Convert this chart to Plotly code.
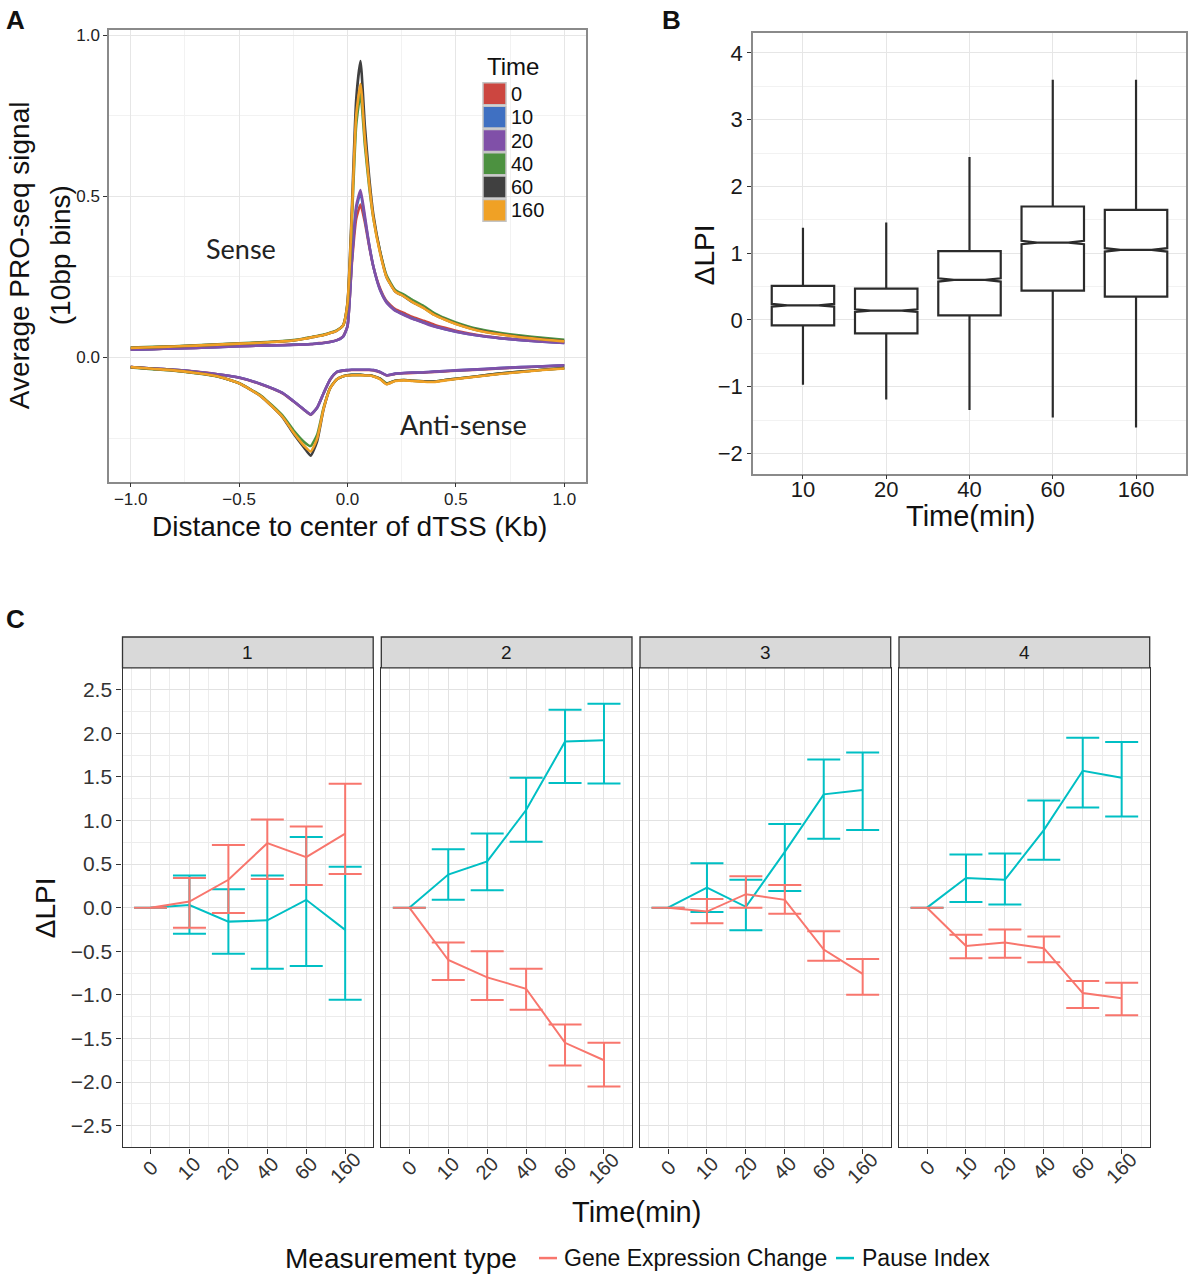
import plotly.graph_objects as go

W, H = 1194, 1280
FONT = "Liberation Sans, Arial, Helvetica, sans-serif"

# ---------------- Panel A data (average PRO-seq signal) ----------------
A_X = [-1.0, -0.9, -0.8, -0.7, -0.6, -0.5, -0.4, -0.3, -0.25, -0.2, -0.17, -0.14, -0.11, -0.08, -0.05, -0.02,
       0.0, 0.02, 0.04, 0.06, 0.08, 0.1, 0.12, 0.15, 0.18, 0.22, 0.26, 0.3, 0.35, 0.4, 0.45, 0.5,
       0.6, 0.7, 0.8, 0.9, 1.0]
A_TIMES = ["0", "10", "20", "40", "60", "160"]
A_COLORS = ["#CC4640", "#3F70C2", "#8050A8", "#4C9140", "#404040", "#F0A125"]

SENSE_0 = [0.024, 0.026, 0.028, 0.030, 0.033, 0.035, 0.037, 0.039, 0.040, 0.041, 0.042, 0.044, 0.046, 0.049, 0.054, 0.066,
           0.098, 0.29, 0.43, 0.475, 0.42, 0.345, 0.28, 0.215, 0.175, 0.15, 0.138, 0.126, 0.114, 0.102, 0.092, 0.083,
           0.070, 0.061, 0.055, 0.050, 0.046]
SENSE_10 = [0.024, 0.026, 0.028, 0.030, 0.032, 0.035, 0.037, 0.038, 0.040, 0.040, 0.042, 0.043, 0.045, 0.048, 0.053, 0.065,
            0.097, 0.30, 0.46, 0.51, 0.43, 0.35, 0.28, 0.21, 0.172, 0.146, 0.133, 0.121, 0.109, 0.097, 0.088, 0.080,
            0.068, 0.060, 0.054, 0.049, 0.045]
SENSE_20 = [0.024, 0.026, 0.028, 0.030, 0.032, 0.035, 0.037, 0.038, 0.039, 0.040, 0.041, 0.043, 0.045, 0.048, 0.053, 0.065,
            0.097, 0.30, 0.47, 0.52, 0.44, 0.35, 0.28, 0.21, 0.17, 0.145, 0.132, 0.120, 0.108, 0.096, 0.088, 0.080,
            0.068, 0.060, 0.054, 0.049, 0.045]
SENSE_40 = [0.031, 0.033, 0.035, 0.038, 0.041, 0.044, 0.047, 0.051, 0.054, 0.059, 0.063, 0.067, 0.071, 0.077, 0.084, 0.100,
            0.165, 0.42, 0.72, 0.82, 0.66, 0.53, 0.43, 0.33, 0.255, 0.21, 0.195, 0.178, 0.16, 0.138, 0.122, 0.109,
            0.089, 0.077, 0.068, 0.061, 0.055]
SENSE_60 = [0.030, 0.032, 0.034, 0.037, 0.040, 0.043, 0.046, 0.050, 0.053, 0.058, 0.062, 0.066, 0.070, 0.076, 0.083, 0.100,
            0.170, 0.46, 0.80, 0.92, 0.72, 0.56, 0.44, 0.33, 0.25, 0.205, 0.19, 0.172, 0.155, 0.133, 0.118, 0.105,
            0.085, 0.073, 0.064, 0.057, 0.051]
SENSE_160 = [0.030, 0.032, 0.034, 0.037, 0.040, 0.043, 0.046, 0.050, 0.053, 0.058, 0.062, 0.066, 0.070, 0.076, 0.083, 0.100,
             0.168, 0.44, 0.75, 0.85, 0.68, 0.54, 0.43, 0.325, 0.25, 0.205, 0.19, 0.172, 0.154, 0.132, 0.117, 0.104,
             0.084, 0.072, 0.063, 0.056, 0.050]

ANTI_0 = [-0.030, -0.034, -0.038, -0.044, -0.052, -0.063, -0.083, -0.111, -0.136, -0.163, -0.178, -0.156, -0.111, -0.069, -0.046, -0.041,
          -0.040, -0.039, -0.039, -0.039, -0.039, -0.039, -0.040, -0.046, -0.056, -0.051, -0.049, -0.048, -0.047, -0.045, -0.043, -0.041,
          -0.038, -0.034, -0.031, -0.028, -0.025]
ANTI_10 = [-0.030, -0.034, -0.038, -0.044, -0.052, -0.062, -0.082, -0.110, -0.135, -0.162, -0.177, -0.156, -0.110, -0.068, -0.045, -0.040,
           -0.039, -0.038, -0.038, -0.038, -0.038, -0.038, -0.039, -0.045, -0.055, -0.050, -0.048, -0.047, -0.046, -0.044, -0.042, -0.040,
           -0.037, -0.033, -0.030, -0.027, -0.024]
ANTI_20 = [-0.030, -0.034, -0.038, -0.044, -0.052, -0.062, -0.082, -0.110, -0.135, -0.162, -0.176, -0.155, -0.110, -0.068, -0.045, -0.040,
           -0.039, -0.038, -0.038, -0.038, -0.038, -0.038, -0.039, -0.045, -0.055, -0.050, -0.048, -0.047, -0.046, -0.044, -0.042, -0.040,
           -0.037, -0.033, -0.030, -0.027, -0.024]
ANTI_40 = [-0.031, -0.036, -0.041, -0.049, -0.059, -0.080, -0.118, -0.180, -0.225, -0.262, -0.275, -0.240, -0.155, -0.094, -0.068, -0.058,
           -0.055, -0.054, -0.054, -0.054, -0.055, -0.055, -0.058, -0.066, -0.080, -0.072, -0.070, -0.072, -0.074, -0.075, -0.070, -0.066,
           -0.058, -0.050, -0.044, -0.038, -0.033]
ANTI_60 = [-0.030, -0.035, -0.040, -0.048, -0.058, -0.080, -0.120, -0.185, -0.235, -0.280, -0.305, -0.260, -0.160, -0.095, -0.068, -0.058,
           -0.055, -0.054, -0.054, -0.054, -0.055, -0.055, -0.058, -0.066, -0.082, -0.072, -0.070, -0.072, -0.074, -0.075, -0.070, -0.066,
           -0.058, -0.050, -0.044, -0.038, -0.033]
ANTI_160 = [-0.030, -0.035, -0.040, -0.048, -0.058, -0.080, -0.120, -0.184, -0.232, -0.274, -0.292, -0.252, -0.158, -0.095, -0.068, -0.058,
            -0.056, -0.055, -0.055, -0.055, -0.056, -0.056, -0.059, -0.067, -0.083, -0.073, -0.071, -0.073, -0.075, -0.076, -0.071, -0.067,
            -0.059, -0.051, -0.045, -0.039, -0.034]

SENSE = [SENSE_0, SENSE_10, SENSE_20, SENSE_40, SENSE_60, SENSE_160]
ANTI = [ANTI_0, ANTI_10, ANTI_20, ANTI_40, ANTI_60, ANTI_160]

# ---------------- Panel B data (boxplot of delta LPI) ----------------
B_TIMES = ["10", "20", "40", "60", "160"]
B_POS = [1, 2, 3, 4, 5]
B_LOW = [-0.97, -1.19, -1.35, -1.46, -1.61]
B_Q1 = [-0.08, -0.20, 0.07, 0.44, 0.35]
B_MED = [0.22, 0.14, 0.60, 1.16, 1.05]
B_Q3 = [0.51, 0.47, 1.03, 1.70, 1.65]
B_HIGH = [1.38, 1.46, 2.44, 3.60, 3.60]
B_NOTCH = [0.02, 0.02, 0.025, 0.025, 0.025]

# ---------------- Panel C data (clusters 1-4) ----------------
C_TIMES = ["0", "10", "20", "40", "60", "160"]
C_POS = [1, 2, 3, 4, 5, 6]
C_CLUSTERS = ["1", "2", "3", "4"]

GE_MEAN = [[0, 0.07, 0.32, 0.74, 0.58, 0.85],
           [0, -0.60, -0.80, -0.93, -1.55, -1.75],
           [0, -0.045, 0.155, 0.09, -0.48, -0.76],
           [0, -0.44, -0.40, -0.465, -0.98, -1.04]]
GE_LO = [[0, -0.23, -0.06, 0.33, 0.26, 0.385],
         [0, -0.83, -1.06, -1.17, -1.81, -2.05],
         [0, -0.18, 0.0, -0.07, -0.61, -1.0],
         [0, -0.58, -0.575, -0.625, -1.15, -1.235]]
GE_HI = [[0, 0.34, 0.72, 1.01, 0.93, 1.42],
         [0, -0.40, -0.50, -0.70, -1.34, -1.55],
         [0, 0.10, 0.36, 0.26, -0.27, -0.59],
         [0, -0.31, -0.25, -0.33, -0.84, -0.86]]
PI_MEAN = [[0, 0.03, -0.16, -0.145, 0.09, -0.255],
           [0, 0.38, 0.53, 1.12, 1.905, 1.92],
           [0, 0.23, 0.01, 0.64, 1.30, 1.35],
           [0, 0.34, 0.32, 0.89, 1.57, 1.49]]
PI_LO = [[0, -0.30, -0.53, -0.70, -0.67, -1.055],
         [0, 0.09, 0.20, 0.755, 1.43, 1.425],
         [0, -0.05, -0.26, 0.19, 0.79, 0.89],
         [0, 0.065, 0.035, 0.55, 1.15, 1.045]]
PI_HI = [[0, 0.37, 0.21, 0.37, 0.81, 0.47],
         [0, 0.67, 0.85, 1.49, 2.27, 2.34],
         [0, 0.51, 0.32, 0.96, 1.70, 1.78],
         [0, 0.61, 0.62, 1.23, 1.95, 1.90]]

GE_COLOR = "#F8766D"
PI_COLOR = "#00BFC4"


def px(x):
    return x / W


def py(y):
    return 1 - y / H


fig = go.Figure()

# ---------- Panel A traces ----------
for t, col, s in zip(A_TIMES, A_COLORS, SENSE):
    fig.add_trace(go.Scatter(x=A_X, y=s, mode="lines", xaxis="x", yaxis="y", name=t,
                             line=dict(color=col, width=2.6, shape="spline", smoothing=0.5),
                             showlegend=False, hoverinfo="skip"))
for t, col, a in zip(A_TIMES, A_COLORS, ANTI):
    fig.add_trace(go.Scatter(x=A_X, y=a, mode="lines", xaxis="x", yaxis="y", name=t,
                             line=dict(color=col, width=2.6, shape="spline", smoothing=0.5),
                             showlegend=False, hoverinfo="skip"))

# ---------- Panel B ----------
fig.add_trace(go.Box(x=B_POS, q1=B_Q1, median=B_MED, q3=B_Q3, lowerfence=B_LOW, upperfence=B_HIGH,
                     notched=True, notchspan=B_NOTCH, notchwidth=0.25, width=0.75, whiskerwidth=0,
                     fillcolor="white", line=dict(color="#2b2b2b", width=2.2), boxpoints=False,
                     xaxis="x2", yaxis="y2", showlegend=False, hoverinfo="skip"))

# ---------- Panel C ----------
for k in range(4):
    xa, ya = "x%d" % (k + 3), "y%d" % (k + 3)
    for mean, lo, hi, col, name in [(PI_MEAN[k], PI_LO[k], PI_HI[k], PI_COLOR, "Pause Index"),
                                    (GE_MEAN[k], GE_LO[k], GE_HI[k], GE_COLOR, "Gene Expression Change")]:
        up = [h - m for h, m in zip(hi, mean)]
        dn = [m - l for m, l in zip(mean, lo)]
        fig.add_trace(go.Scatter(x=C_POS, y=mean, mode="lines", xaxis=xa, yaxis=ya, name=name,
                                 line=dict(color=col, width=2),
                                 error_y=dict(type="data", symmetric=False, array=up, arrayminus=dn,
                                              width=16.5, thickness=2, color=col),
                                 showlegend=False, hoverinfo="skip"))

GRID = "#e6e6e6"
MINOR = "#f2f2f2"
CGRID = "#e2e2e2"
CMINOR = "#ececec"
TICKC = "#333333"

layout = dict(
    width=W, height=H, margin=dict(l=0, r=0, t=0, b=0),
    paper_bgcolor="white", plot_bgcolor="white",
    font=dict(family=FONT, color="#1a1a1a"),
    showlegend=False,
)

# Panel A axes
layout["xaxis"] = dict(domain=[px(109), px(586)], anchor="y", range=[-1.1, 1.1], tick0=0, dtick=0.5,
                       tickformat=".1f", showgrid=True, gridcolor=GRID, gridwidth=1, zeroline=False,
                       minor=dict(dtick=0.25, tick0=0, showgrid=True, gridcolor=MINOR, gridwidth=1),
                       showline=True, mirror=True, linecolor="#8a8a8a", linewidth=1.5,
                       ticks="outside", ticklen=4, tickwidth=1.2, tickcolor=TICKC, ticklabelstandoff=-3,
                       tickfont=dict(size=17, color="#222"))
layout["yaxis"] = dict(domain=[py(479), py(26)], anchor="x", range=[-0.385, 1.017], tick0=0, dtick=0.5,
                       tickformat=".1f", showgrid=True, gridcolor=GRID, gridwidth=1, zeroline=False,
                       minor=dict(dtick=0.25, tick0=0, showgrid=True, gridcolor=MINOR, gridwidth=1),
                       showline=True, mirror=True, linecolor="#8a8a8a", linewidth=1.5,
                       ticks="outside", ticklen=4, tickwidth=1.2, tickcolor=TICKC,
                       tickfont=dict(size=17, color="#222"))

# Panel B axes
layout["xaxis2"] = dict(domain=[px(753), px(1186)], anchor="y2", range=[0.4, 5.6], tickmode="array",
                        tickvals=B_POS, ticktext=B_TIMES, showgrid=True, gridcolor=GRID, zeroline=False,
                        showline=True, mirror=True, linecolor="#8a8a8a", linewidth=1.5,
                        ticks="outside", ticklen=4, tickwidth=1.2, tickcolor=TICKC, ticklabelstandoff=-9,
                        tickfont=dict(size=22, color="#1a1a1a"))
layout["yaxis2"] = dict(domain=[py(471), py(29)], anchor="x2", range=[-2.3, 4.3], tick0=0, dtick=1,
                        showgrid=True, gridcolor=GRID, zeroline=False,
                        minor=dict(dtick=0.5, tick0=0, showgrid=True, gridcolor=MINOR, gridwidth=1),
                        showline=True, mirror=True, linecolor="#8a8a8a", linewidth=1.5,
                        ticks="outside", ticklen=4, tickwidth=1.2, tickcolor=TICKC,
                        tickfont=dict(size=22, color="#1a1a1a"))

# Panel C axes
C_LEFT = [122.5, 381.3, 640.0, 899.0]
C_W = 250.7
C_TOP, C_BOT = 666, 1147
for k in range(4):
    n = k + 3
    layout["xaxis%d" % n] = dict(domain=[px(C_LEFT[k]), px(C_LEFT[k] + C_W)], anchor="y%d" % n,
                                 range=[0.28, 6.72], tickmode="array", tickvals=C_POS, ticktext=C_TIMES,
                                 showticklabels=False, showgrid=True, gridcolor=CGRID, gridwidth=1, zeroline=False,
                                 minor=dict(tickmode="linear", tick0=0.5, dtick=1, showgrid=True,
                                            gridcolor=CMINOR, gridwidth=1),
                                 showline=True, mirror=True, linecolor="#333333", linewidth=1.3,
                                 ticks="outside", ticklen=5, tickwidth=1.2, tickcolor=TICKC)
    layout["yaxis%d" % n] = dict(domain=[py(C_BOT), py(C_TOP)], anchor="x%d" % n, range=[-2.75, 2.75],
                                 tick0=0, dtick=0.5, tickformat=".1f", showticklabels=(k == 0),
                                 ticks="outside" if k == 0 else "", ticklen=5, tickwidth=1.2, tickcolor=TICKC,
                                 showgrid=True, gridcolor=CGRID, gridwidth=1, zeroline=False,
                                 minor=dict(dtick=0.25, tick0=0, showgrid=True, gridcolor=CMINOR, gridwidth=1),
                                 showline=True, mirror=True, linecolor="#333333", linewidth=1.3,
                                 tickfont=dict(size=21, color="#333"))

shapes = []
annotations = []


def txt(x, y, text, size, **kw):
    d = dict(x=px(x), y=py(y), xref="paper", yref="paper", text=text, showarrow=False,
             font=dict(size=size, family=kw.pop("family", FONT), color=kw.pop("color", "#111")),
             xanchor=kw.pop("xanchor", "center"), yanchor=kw.pop("yanchor", "middle"))
    d.update(kw)
    annotations.append(d)


# panel letters
txt(15, 16, "<b>A</b>", 26)
txt(671, 16, "<b>B</b>", 26)
txt(15, 617, "<b>C</b>", 26)

# Panel A titles and text
txt(19, 252, "Average PRO-seq signal", 28, textangle=-90)
txt(60, 252, "(10bp bins)", 28, textangle=-90)
txt(350, 524, "Distance to center of dTSS (Kb)", 28)
annotations.append(dict(x=-0.49, y=0.338, xref="x", yref="y", text="Sense", showarrow=False,
                        font=dict(size=27, family="Lato, Open Sans, sans-serif", color="#222")))
annotations.append(dict(x=0.535, y=-0.209, xref="x", yref="y", text="Anti-sense", showarrow=False,
                        font=dict(size=27, family="Lato, Open Sans, sans-serif", color="#222")))

# Panel A legend (Time)
txt(485, 63, "Time", 24, xanchor="left")
LEG_Y = [90, 113.5, 137, 160.3, 183.6, 207]
for t, col, yc in zip(A_TIMES, A_COLORS, LEG_Y):
    shapes.append(dict(type="rect", xref="paper", yref="paper", x0=px(483), x1=px(506),
                       y0=py(yc + 11), y1=py(yc - 11), fillcolor=col,
                       line=dict(color="#c4c4c4", width=1.5), layer="above"))
    txt(509, yc, t, 20, xanchor="left")

# Panel B titles
txt(704, 252, "ΔLPI", 28, textangle=-90)
txt(971, 514, "Time(min)", 29)

# Panel C strips
for k in range(4):
    shapes.append(dict(type="rect", xref="paper", yref="paper", x0=px(C_LEFT[k]), x1=px(C_LEFT[k] + C_W),
                       y0=py(666), y1=py(635), fillcolor="#d9d9d9", line=dict(color="#333333", width=1.3)))
    txt(C_LEFT[k] + C_W / 2, 650.5, C_CLUSTERS[k], 19, color="#1a1a1a")
    for pos, lab in zip(C_POS, C_TIMES):
        annotations.append(dict(x=pos, y=py(1168), xref="x%d" % (k + 3), yref="paper", text=lab,
                                showarrow=False, textangle=-45, xanchor="center", yanchor="middle",
                                font=dict(size=20, family=FONT, color="#333")))

txt(45, 906, "ΔLPI", 28, textangle=-90)
txt(636, 1212, "Time(min)", 29)

# Panel C legend
txt(283, 1258, "Measurement type", 28, xanchor="left")
shapes.append(dict(type="line", xref="paper", yref="paper", x0=px(539), x1=px(557), y0=py(1258), y1=py(1258),
                   line=dict(color=GE_COLOR, width=2.5)))
txt(562, 1258, "Gene Expression Change", 23, xanchor="left")
shapes.append(dict(type="line", xref="paper", yref="paper", x0=px(836), x1=px(854), y0=py(1258), y1=py(1258),
                   line=dict(color=PI_COLOR, width=2.5)))
txt(860, 1258, "Pause Index", 23, xanchor="left")

layout["shapes"] = shapes
layout["annotations"] = annotations
fig.update_layout(**layout)

fig.write_html("out.html")
